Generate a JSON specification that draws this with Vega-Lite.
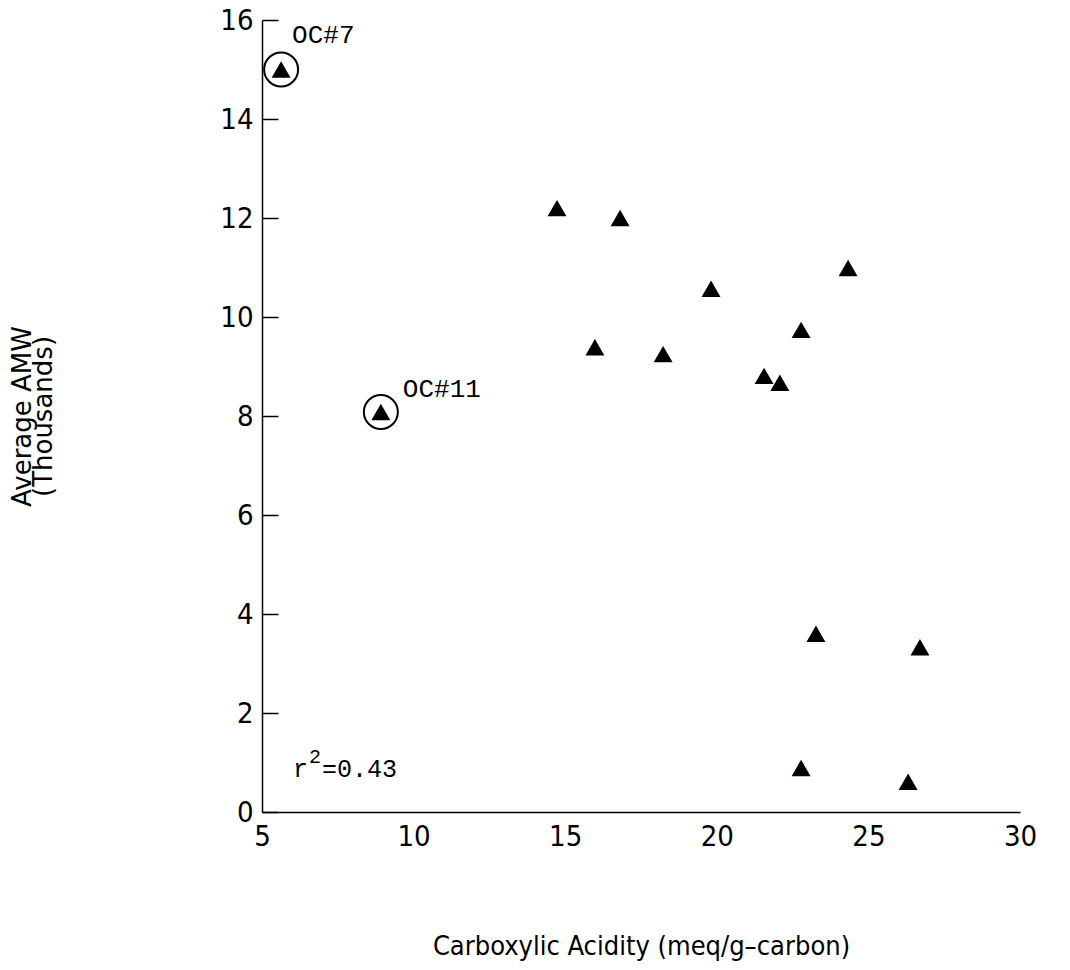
{
  "$schema": "https://vega.github.io/schema/vega-lite/v6.json",
  "width": 758,
  "height": 792,
  "autosize": {"type": "none"},
  "padding": {"left": 262, "top": 20, "right": 50, "bottom": 158},
  "background": "white",
  "config": {
    "view": {"stroke": null},
    "axis": {
      "grid": false,
      "domainColor": "black",
      "domainWidth": 1.5,
      "tickColor": "black",
      "tickWidth": 1.5,
      "labelColor": "black",
      "titleColor": "black",
      "labelFont": "Liberation Sans Narrow, DejaVu Sans Condensed, Liberation Sans",
      "titleFont": "Liberation Sans Narrow, DejaVu Sans Condensed, Liberation Sans",
      "labelFontWeight": "normal",
      "titleFontWeight": "normal"
    }
  },
  "datasets": {
    "samples": [
      {"acidity": 5.63, "amw": 15.0, "label": "OC#7"},
      {"acidity": 8.92, "amw": 8.08, "label": "OC#11"},
      {"acidity": 14.73, "amw": 12.2, "label": null},
      {"acidity": 16.81, "amw": 12.0, "label": null},
      {"acidity": 15.98, "amw": 9.39, "label": null},
      {"acidity": 18.23, "amw": 9.25, "label": null},
      {"acidity": 19.81, "amw": 10.57, "label": null},
      {"acidity": 21.56, "amw": 8.81, "label": null},
      {"acidity": 22.08, "amw": 8.67, "label": null},
      {"acidity": 22.78, "amw": 9.74, "label": null},
      {"acidity": 24.33, "amw": 10.99, "label": null},
      {"acidity": 23.27, "amw": 3.6, "label": null},
      {"acidity": 26.7, "amw": 3.33, "label": null},
      {"acidity": 22.78, "amw": 0.89, "label": null},
      {"acidity": 26.31, "amw": 0.61, "label": null}
    ],
    "fit": [{"symbol": "r", "power": "2", "value": "=0.43"}]
  },
  "layer": [
    {
      "data": {"name": "samples"},
      "transform": [{"filter": "datum.label != null"}],
      "mark": {"type": "point", "shape": "circle", "size": 1156, "filled": false, "stroke": "black", "strokeWidth": 2, "opacity": 1},
      "encoding": {
        "x": {
          "field": "acidity",
          "type": "quantitative",
          "scale": {"domain": [5, 30], "nice": false, "zero": false},
          "axis": {
            "values": [5, 10, 15, 20, 25, 30],
            "ticks": false,
            "labelFlush": false,
            "labelPadding": 10,
            "labelFontSize": 29,
            "title": "Carboxylic Acidity (meq/g–carbon)",
            "titleFontSize": 27,
            "titlePadding": 82
          }
        },
        "y": {
          "field": "amw",
          "type": "quantitative",
          "scale": {"domain": [0, 16], "nice": false},
          "axis": {
            "values": [0, 2, 4, 6, 8, 10, 12, 14, 16],
            "tickSize": -16,
            "labelPadding": 25,
            "labelFontSize": 29,
            "title": ["Average AMW", "(Thousands)"],
            "titleFont": "DejaVu Sans",
            "titleFontSize": 26,
            "titleLineHeight": 21,
            "titlePadding": 163
          }
        }
      }
    },
    {
      "data": {"name": "samples"},
      "mark": {"type": "point", "shape": "triangle-up", "size": 360, "filled": true, "color": "black", "opacity": 1},
      "encoding": {
        "x": {"field": "acidity", "type": "quantitative"},
        "y": {"field": "amw", "type": "quantitative"}
      }
    },
    {
      "data": {"name": "samples"},
      "transform": [{"filter": "datum.label == 'OC#7'"}],
      "mark": {"type": "text", "align": "left", "baseline": "alphabetic", "dx": 11, "dy": -27, "font": "Liberation Mono", "fontSize": 26, "color": "black"},
      "encoding": {
        "x": {"field": "acidity", "type": "quantitative"},
        "y": {"field": "amw", "type": "quantitative"},
        "text": {"field": "label"}
      }
    },
    {
      "data": {"name": "samples"},
      "transform": [{"filter": "datum.label == 'OC#11'"}],
      "mark": {"type": "text", "align": "left", "baseline": "alphabetic", "dx": 22, "dy": -15, "font": "Liberation Mono", "fontSize": 26, "color": "black"},
      "encoding": {
        "x": {"field": "acidity", "type": "quantitative"},
        "y": {"field": "amw", "type": "quantitative"},
        "text": {"field": "label"}
      }
    },
    {
      "data": {"name": "fit"},
      "mark": {"type": "text", "align": "left", "baseline": "alphabetic", "font": "Liberation Mono", "fontSize": 25, "color": "black"},
      "encoding": {
        "x": {"datum": 6.02},
        "y": {"datum": 0.71},
        "text": {"field": "symbol"}
      }
    },
    {
      "data": {"name": "fit"},
      "mark": {"type": "text", "align": "left", "baseline": "alphabetic", "dx": 16, "dy": -14, "font": "Liberation Mono", "fontSize": 20, "color": "black"},
      "encoding": {
        "x": {"datum": 6.02},
        "y": {"datum": 0.71},
        "text": {"field": "power"}
      }
    },
    {
      "data": {"name": "fit"},
      "mark": {"type": "text", "align": "left", "baseline": "alphabetic", "dx": 29, "font": "Liberation Mono", "fontSize": 25, "color": "black"},
      "encoding": {
        "x": {"datum": 6.02},
        "y": {"datum": 0.71},
        "text": {"field": "value"}
      }
    }
  ]
}
